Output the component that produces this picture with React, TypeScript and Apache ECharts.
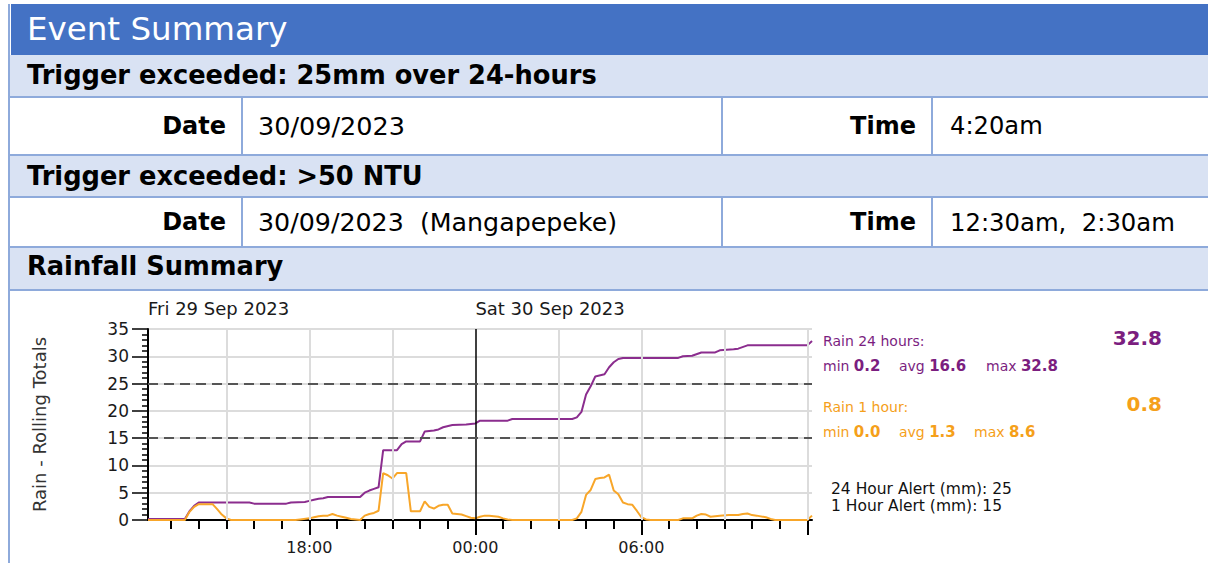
import React, { useEffect, useRef } from "react";
import * as echarts from "echarts";

const FONT = "DejaVu Sans";
const PURPLE_LINE = "#8B2D8E";
const PURPLE_TEXT = "#7B1E7F";
const ORANGE_LINE = "#F8A629";
const ORANGE_TEXT = "#F5A01A";
const BLUE = "#4472C4";
const LIGHT = "#D9E2F3";
const BORDER = "#8EAADB";

// ---------- table texts ----------
const headerTitle = "Event Summary";
const sectionTitles = ["Trigger exceeded: 25mm over 24-hours", "Trigger exceeded: >50 NTU", "Rainfall Summary"];
const fieldLabels = ["Date", "Time"];
const trigger1Values = ["30/09/2023", "4:20am"];
const trigger2Values = ["30/09/2023  (Mangapepeke)", "12:30am,  2:30am"];

// ---------- axis labels ----------
const X_MIN = 12 + 10 / 60; // Fri 12:10
const X_MAX = 36 + 10 / 60; // Sat 12:10
const dayLabels = ["Fri 29 Sep 2023", "Sat 30 Sep 2023"];
const dayStarts = [X_MIN, 24];
const hourLabels = ["18:00", "00:00", "06:00"];
const hourLabelPositions = [18, 24, 30];
const majorTickHours = [18, 24, 30, 36];
const minorTickHours = [13, 14, 15, 16, 17, 18, 19, 20, 21, 22, 23, 24, 25, 26, 27, 28, 29, 30, 31, 32, 33, 34, 35, 36];
const gridHours = [15, 18, 21, 27, 30, 33, 36];
const dayBoundary = 24;
const yAxisName = "Rain - Rolling Totals";

// ---------- alerts & summary ----------
const alertLevels = [25, 15];
const alertTexts = ["24 Hour Alert (mm): 25", "1 Hour Alert (mm): 15"];
const rain24Summary = ["32.8", "0.2", "16.6", "32.8"]; // current, min, avg, max
const rain1Summary = ["0.8", "0.0", "1.3", "8.6"];

// ---------- data ----------
const rain24: [string, number][] = [
  ["Fri 12:10", 0.2], ["Fri 13:30", 0.2], ["Fri 13:40", 1.6], ["Fri 13:50", 2.6], ["Fri 14:00", 3.2],
  ["Fri 15:50", 3.2], ["Fri 16:00", 3.0], ["Fri 17:10", 3.0], ["Fri 17:20", 3.2], ["Fri 17:50", 3.3],
  ["Fri 18:00", 3.5], ["Fri 18:10", 3.7], ["Fri 18:20", 3.9], ["Fri 18:30", 4.0], ["Fri 18:40", 4.2],
  ["Fri 19:50", 4.2], ["Fri 20:00", 5.0], ["Fri 20:10", 5.4], ["Fri 20:20", 5.7], ["Fri 20:30", 6.0],
  ["Fri 20:40", 12.8], ["Fri 21:10", 12.8], ["Fri 21:20", 13.9], ["Fri 21:30", 14.4], ["Fri 22:00", 14.4],
  ["Fri 22:10", 16.2], ["Fri 22:30", 16.4], ["Fri 22:40", 16.6], ["Fri 22:50", 17.0], ["Fri 23:10", 17.4],
  ["Fri 23:40", 17.5], ["Sat 00:00", 17.7], ["Sat 00:10", 18.2], ["Sat 01:10", 18.2], ["Sat 01:20", 18.5],
  ["Sat 03:30", 18.5], ["Sat 03:40", 18.8], ["Sat 03:50", 19.8], ["Sat 04:00", 23.0], ["Sat 04:10", 24.5],
  ["Sat 04:20", 26.3], ["Sat 04:40", 26.7], ["Sat 04:50", 28.0], ["Sat 05:00", 28.9], ["Sat 05:10", 29.5],
  ["Sat 05:20", 29.7], ["Sat 07:20", 29.7], ["Sat 07:30", 30.0], ["Sat 07:50", 30.1], ["Sat 08:10", 30.7],
  ["Sat 08:40", 30.7], ["Sat 08:50", 31.1], ["Sat 09:20", 31.3], ["Sat 09:30", 31.4], ["Sat 09:50", 32.0],
  ["Sat 12:00", 32.0], ["Sat 12:10", 32.8],
];

const rain1: [string, number][] = [
  ["Fri 12:10", 0], ["Fri 13:30", 0], ["Fri 13:40", 1.5], ["Fri 13:50", 2.4], ["Fri 14:00", 2.9],
  ["Fri 14:30", 2.9], ["Fri 14:40", 2.0], ["Fri 14:50", 1.0], ["Fri 15:00", 0.3], ["Fri 15:10", 0],
  ["Fri 17:30", 0], ["Fri 17:40", 0.1], ["Fri 18:00", 0.3], ["Fri 18:10", 0.5], ["Fri 18:20", 0.7],
  ["Fri 18:30", 0.8], ["Fri 18:40", 0.8], ["Fri 18:50", 1.1], ["Fri 19:00", 0.8], ["Fri 19:10", 0.6],
  ["Fri 19:20", 0.4], ["Fri 19:30", 0.2], ["Fri 19:40", 0.1], ["Fri 19:50", 0], ["Fri 20:00", 0.8],
  ["Fri 20:10", 1.1], ["Fri 20:20", 1.3], ["Fri 20:30", 1.7], ["Fri 20:40", 8.6], ["Fri 20:50", 8.2],
  ["Fri 21:00", 7.6], ["Fri 21:10", 8.6], ["Fri 21:20", 8.6], ["Fri 21:30", 8.6], ["Fri 21:40", 1.6],
  ["Fri 22:00", 1.6], ["Fri 22:10", 3.4], ["Fri 22:20", 2.4], ["Fri 22:30", 2.1], ["Fri 22:40", 2.6],
  ["Fri 22:50", 2.8], ["Fri 23:00", 2.8], ["Fri 23:10", 1.2], ["Fri 23:20", 1.1], ["Fri 23:30", 1.0],
  ["Fri 23:40", 0.7], ["Fri 23:50", 0.4], ["Sat 00:00", 0.3], ["Sat 00:10", 0.6], ["Sat 00:20", 0.8],
  ["Sat 00:30", 0.8], ["Sat 00:40", 0.7], ["Sat 00:50", 0.6], ["Sat 01:00", 0.3], ["Sat 01:10", 0.1],
  ["Sat 01:20", 0], ["Sat 03:30", 0], ["Sat 03:40", 0.3], ["Sat 03:50", 1.5], ["Sat 04:00", 4.6],
  ["Sat 04:10", 5.5], ["Sat 04:20", 7.5], ["Sat 04:30", 7.7], ["Sat 04:40", 7.8], ["Sat 04:50", 8.3],
  ["Sat 05:00", 5.4], ["Sat 05:10", 4.7], ["Sat 05:20", 3.2], ["Sat 05:30", 2.9], ["Sat 05:40", 2.8],
  ["Sat 05:50", 1.7], ["Sat 06:00", 0.5], ["Sat 06:10", 0.1], ["Sat 06:20", 0], ["Sat 07:20", 0],
  ["Sat 07:30", 0.3], ["Sat 07:50", 0.3], ["Sat 08:00", 0.8], ["Sat 08:10", 1.1], ["Sat 08:20", 1.0],
  ["Sat 08:30", 0.6], ["Sat 08:50", 0.8], ["Sat 09:10", 0.9], ["Sat 09:30", 0.9], ["Sat 09:40", 1.1],
  ["Sat 09:50", 1.2], ["Sat 10:00", 0.9], ["Sat 10:10", 0.8], ["Sat 10:30", 0.5], ["Sat 10:40", 0.2],
  ["Sat 10:50", 0], ["Sat 12:00", 0], ["Sat 12:10", 0.8],
];

function toHours(s: string): number {
  const [d, hm] = s.split(" ");
  const [h, m] = hm.split(":").map(Number);
  return (d === "Sat" ? 24 : 0) + h + m / 60;
}

function txt(x: number, y: number, text: string, size: number, opts: any = {}) {
  return {
    type: "text",
    x,
    y,
    silent: true,
    z: 10,
    style: {
      text,
      fill: opts.color ?? "#000",
      fontSize: size,
      fontFamily: FONT,
      fontWeight: opts.weight ?? "normal",
      align: opts.align ?? "left",
      textAlign: opts.align ?? "left",
      verticalAlign: "middle",
      textVerticalAlign: "middle",
    },
  };
}

function rect(x: number, y: number, w: number, h: number, fill: string) {
  return { type: "rect", silent: true, z: 5, shape: { x, y, width: w, height: h }, style: { fill } };
}

function statText(x: number, y: number, label: string, value: string, color: string) {
  return {
    type: "text",
    x,
    y,
    silent: true,
    z: 10,
    style: {
      text: `{l|${label} }{b|${value}}`,
      verticalAlign: "middle",
      textVerticalAlign: "middle",
      rich: {
        l: { fontSize: 14, fontFamily: FONT, fill: color, color },
        b: { fontSize: 15, fontFamily: FONT, fontWeight: "bold", fill: color, color },
      },
    },
  };
}

function buildGraphic() {
  const els: any[] = [];
  // left border
  els.push(rect(8, 4, 2, 559, BORDER));
  // header
  els.push(rect(11, 4, 1197, 51, BLUE));
  els.push(txt(27, 29, headerTitle, 32.5, { color: "#fff" }));
  // rows
  const lightRows = [
    [55, 41],
    [156, 40],
    [248, 41],
  ];
  lightRows.forEach(([y, h]) => els.push(rect(10, y, 1198, h, LIGHT)));
  [96, 154, 196, 246, 289].forEach((y) => els.push(rect(8, y, 1200, 2, BORDER)));
  [
    [98, 56],
    [198, 48],
  ].forEach(([y, h]) => {
    [241, 721, 931].forEach((x) => els.push(rect(x, y, 2, h, BORDER)));
  });
  els.push(txt(27, 75, sectionTitles[0], 25.7, { weight: "bold" }));
  els.push(txt(27, 176, sectionTitles[1], 25.7, { weight: "bold" }));
  els.push(txt(27, 266, sectionTitles[2], 25.7, { weight: "bold" }));

  els.push(txt(226, 126, fieldLabels[0], 24, { weight: "bold", align: "right" }));
  els.push(txt(258, 126, trigger1Values[0], 25.5));
  els.push(txt(916, 126, fieldLabels[1], 24, { weight: "bold", align: "right" }));
  els.push(txt(950, 126, trigger1Values[1], 24.2));

  els.push(txt(226, 222, fieldLabels[0], 24, { weight: "bold", align: "right" }));
  els.push(txt(258, 222, trigger2Values[0], 25.3));
  els.push(txt(916, 222, fieldLabels[1], 24, { weight: "bold", align: "right" }));
  els.push(txt(950, 222, trigger2Values[1], 24.3));

  // right-hand summary
  els.push(txt(823, 341, "Rain 24 hours:", 14, { color: PURPLE_TEXT }));
  els.push(txt(1162, 338, rain24Summary[0], 20, { color: PURPLE_TEXT, weight: "bold", align: "right" }));
  els.push(statText(823, 366, "min", rain24Summary[1], PURPLE_TEXT));
  els.push(statText(899, 366, "avg", rain24Summary[2], PURPLE_TEXT));
  els.push(statText(986, 366, "max", rain24Summary[3], PURPLE_TEXT));

  els.push(txt(823, 407, "Rain 1 hour:", 14, { color: ORANGE_TEXT }));
  els.push(txt(1162, 404, rain1Summary[0], 20, { color: ORANGE_TEXT, weight: "bold", align: "right" }));
  els.push(statText(823, 432, "min", rain1Summary[1], ORANGE_TEXT));
  els.push(statText(899, 432, "avg", rain1Summary[2], ORANGE_TEXT));
  els.push(statText(974, 432, "max", rain1Summary[3], ORANGE_TEXT));

  els.push(txt(831, 489, alertTexts[0], 15.5, { color: "#111" }));
  els.push(txt(831, 506, alertTexts[1], 15.5, { color: "#111" }));
  return els;
}

function buildOption(): any {
  const axisBase = { type: "value", min: X_MIN, max: X_MAX, splitLine: { show: false } };
  return {
    animation: false,
    backgroundColor: "#fff",
    grid: { left: 148, right: 396, top: 329, bottom: 43, containLabel: false },
    xAxis: [
      {
        ...axisBase,
        position: "bottom",
        axisLine: { show: true, onZero: false, lineStyle: { color: "#000", width: 2 } },
        axisTick: { show: true, customValues: minorTickHours, length: 9, lineStyle: { color: "#000", width: 2 } },
        axisLabel: { show: false },
      },
      {
        ...axisBase,
        position: "bottom",
        axisLine: { show: false, onZero: false },
        axisTick: { show: true, customValues: majorTickHours, length: 15, lineStyle: { color: "#000", width: 2 } },
        axisLabel: {
          show: true,
          customValues: hourLabelPositions,
          formatter: (v: number) => hourLabels[hourLabelPositions.indexOf(Math.round(v))] ?? "",
          fontSize: 16,
          fontFamily: FONT,
          color: "#1a1a1a",
          margin: 19,
        },
      },
      {
        ...axisBase,
        position: "top",
        axisLine: { show: false, onZero: false },
        axisTick: { show: false },
        axisLabel: {
          show: true,
          customValues: dayStarts,
          formatter: (v: number) => (v < dayStarts[1] ? dayLabels[0] : dayLabels[1]),
          fontSize: 18,
          fontFamily: FONT,
          color: "#1a1a1a",
          align: "left",
          margin: 12,
        },
      },
    ],
    yAxis: {
      type: "value",
      min: 0,
      max: 35,
      interval: 5,
      name: yAxisName,
      nameLocation: "middle",
      nameRotate: 90,
      nameGap: 100,
      nameTextStyle: { fontSize: 18, fontFamily: FONT, color: "#333" },
      axisLine: { show: true, lineStyle: { color: "#000", width: 2 } },
      axisTick: { show: true, length: 16, lineStyle: { color: "#000", width: 1.5 } },
      minorTick: { show: true, splitNumber: 5, length: 6, lineStyle: { color: "#000", width: 1.5 } },
      axisLabel: { fontSize: 17, fontFamily: FONT, color: "#1a1a1a", margin: 19 },
      splitLine: { show: true, lineStyle: { color: "#DCDCDC", width: 2 } },
    },
    graphic: { elements: buildGraphic() },
    series: [
      {
        type: "line",
        name: "grid",
        data: [],
        z: 1,
        silent: true,
        markLine: {
          silent: true,
          symbol: ["none", "none"],
          label: { show: false },
          animation: false,
          data: [
            ...gridHours.map((h) => ({ xAxis: h, lineStyle: { color: "#DCDCDC", width: 2, type: "solid" } })),
            { xAxis: dayBoundary, lineStyle: { color: "#000", width: 1.5, type: "solid" } },
            ...alertLevels.map((v) => ({ yAxis: v, lineStyle: { color: "#555", width: 2, type: [10, 6] } })),
          ],
        },
      },
      {
        type: "line",
        name: "Rain 24 hours",
        data: rain24.map(([t, v]) => [toHours(t), v]),
        showSymbol: false,
        symbol: "none",
        z: 3,
        lineStyle: { color: PURPLE_LINE, width: 2 },
      },
      {
        type: "line",
        name: "Rain 1 hour",
        data: rain1.map(([t, v]) => [toHours(t), v]),
        showSymbol: false,
        symbol: "none",
        z: 4,
        lineStyle: { color: ORANGE_LINE, width: 2 },
      },
    ],
  };
}

export default function App() {
  const ref = useRef<HTMLDivElement>(null);
  useEffect(() => {
    if (!ref.current) return;
    const chart = echarts.init(ref.current, null, { renderer: "svg" });
    chart.setOption(buildOption());
    return () => chart.dispose();
  }, []);
  return (
    <div style={{ position: "fixed", left: 0, top: 0, width: 1208, height: 563, background: "#fff", overflow: "hidden" }}>
      <div ref={ref} style={{ width: 1208, height: 563 }} />
    </div>
  );
}
